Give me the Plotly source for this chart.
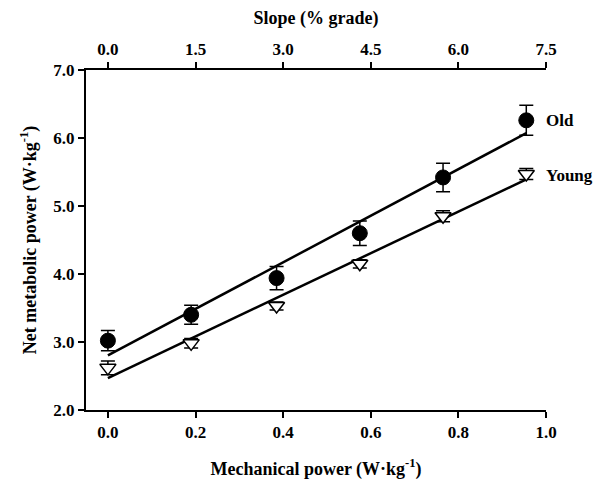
import plotly.graph_objects as go
import numpy as np

mech_power = [0.0, 0.19, 0.385, 0.575, 0.765, 0.955]
old_mean = [3.02, 3.40, 3.94, 4.60, 5.42, 6.26]
old_err = [0.15, 0.14, 0.17, 0.18, 0.21, 0.22]
young_mean = [2.62, 2.98, 3.53, 4.15, 4.85, 5.47]
young_err = [0.10, 0.07, 0.06, 0.06, 0.08, 0.08]
slope_ticks = [0.0, 1.5, 3.0, 4.5, 6.0, 7.5]
y_ticks = [2.0, 3.0, 4.0, 5.0, 6.0, 7.0]
x_ticks = [0.0, 0.2, 0.4, 0.6, 0.8, 1.0]

FONT = "Liberation Serif"

fig = go.Figure()

for ys in (old_mean, young_mean):
    k, b = np.polyfit(mech_power, ys, 1)
    xs = [mech_power[0], mech_power[-1]]
    fig.add_trace(go.Scatter(x=xs, y=[k * v + b for v in xs], mode="lines",
                             line=dict(color="black", width=2.5), showlegend=False,
                             hoverinfo="skip"))

fig.add_trace(go.Scatter(
    x=mech_power, y=old_mean, mode="markers", name="Old",
    marker=dict(symbol="circle", size=15, color="black", line=dict(color="black", width=1)),
    error_y=dict(type="data", array=old_err, color="black", thickness=1.5, width=7),
    showlegend=False))

fig.add_trace(go.Scatter(
    x=mech_power, y=young_mean, mode="markers", name="Young",
    marker=dict(symbol="triangle-down", size=14, color="white", line=dict(color="black", width=1.5)),
    error_y=dict(type="data", array=young_err, color="black", thickness=1.5, width=7),
    showlegend=False))

# invisible trace to anchor the top axis
fig.add_trace(go.Scatter(x=slope_ticks, y=[None] * len(slope_ticks), xaxis="x2",
                         mode="markers", marker=dict(opacity=0), showlegend=False,
                         hoverinfo="skip"))

fig.add_annotation(x=mech_power[-1], y=old_mean[-1], text="<b>Old</b>",
                   showarrow=False, xanchor="left", xshift=18, yshift=0,
                   font=dict(family=FONT, size=17, color="black"))
fig.add_annotation(x=mech_power[-1], y=young_mean[-1], text="<b>Young</b>",
                   showarrow=False, xanchor="left", xshift=18, yshift=-1,
                   font=dict(family=FONT, size=17, color="black"))

axis_common = dict(showgrid=False, zeroline=False, showline=True, linecolor="black",
                   linewidth=2, ticks="outside", ticklen=6, tickwidth=2, tickcolor="black",
                   automargin=False,
                   tickfont=dict(family=FONT, size=17, color="black"))

fig.update_layout(
    width=601, height=491,
    margin=dict(l=78, r=63, t=62, b=89),
    plot_bgcolor="white", paper_bgcolor="white",
    font=dict(family=FONT, color="black"),
    xaxis=dict(range=[-0.05, 1.0], tickvals=x_ticks,
               ticktext=[f"<b>{v:.1f}</b>" for v in x_ticks],
               title=dict(text="<b>Mechanical power (W·kg<sup>-1</sup>)</b>",
                          font=dict(family=FONT, size=18), standoff=21),
               **axis_common),
    xaxis2=dict(range=[-0.375, 7.5], overlaying="x", side="top", tickvals=slope_ticks,
                ticktext=[f"<b>{v:.1f}</b>" for v in slope_ticks],
                title=dict(text="<b>Slope (% grade)</b>",
                           font=dict(family=FONT, size=18), standoff=13),
                **axis_common),
    yaxis=dict(range=[2.0, 7.0], tickvals=y_ticks,
               ticktext=[f"<b>{v:.1f}</b>" for v in y_ticks],
               title=dict(text="<b>Net metabolic power (W·kg<sup>-1</sup>)</b>",
                          font=dict(family=FONT, size=18), standoff=12),
               **axis_common),
)

fig.write_html("out.html")
